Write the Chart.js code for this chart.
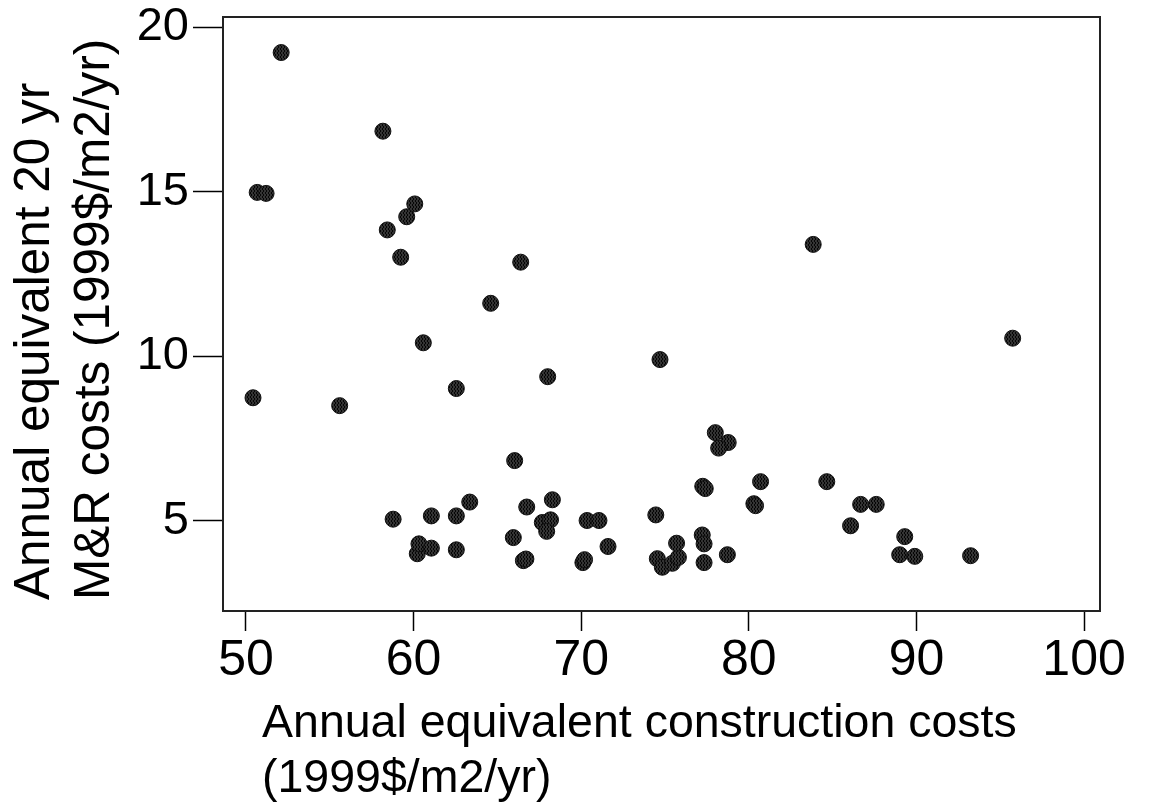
<!DOCTYPE html>
<html>
<head>
<meta charset="utf-8">
<script src="https://cdn.jsdelivr.net/npm/chart.js@4/dist/chart.umd.min.js"></script>
<style>
  html, body { margin: 0; padding: 0; background: #ffffff; }
  #wrap { width: 1151px; height: 806px; }
</style>
</head>
<body>
<div id="wrap"><canvas id="c" width="1151" height="806"></canvas></div>
<script>
// ---- data ----
const constructionCosts = [
  50.42, 50.67, 51.2, 52.1, 55.59, 58.17, 58.43, 58.78, 59.23, 59.59,
  60.07, 60.22, 60.32, 60.58, 61.06, 61.06, 62.55, 62.55, 62.55, 63.35,
  64.6, 65.95, 66.03, 66.39, 66.55, 66.7, 66.75, 67.68, 68.17, 67.94,
  68.28, 68.0, 70.1, 70.2, 70.35, 71.06, 71.6, 74.45, 74.7, 74.54,
  74.84, 75.44, 75.8, 75.69, 77.25, 77.4, 77.22, 77.33, 77.33, 78.72,
  78.0, 78.77, 78.2, 80.3, 80.4, 80.7, 83.84, 84.65, 86.07, 86.67,
  87.6, 89.3, 89.0, 89.9, 93.23, 95.74
];
const mrCosts = [
  8.74, 14.98, 14.95, 19.23, 8.50, 16.84, 13.84, 5.05, 13.01, 14.24,
  14.63, 4.00, 4.30, 10.41, 4.17, 5.15, 4.12, 9.02, 5.15, 5.57,
  11.61, 4.49, 6.83, 12.86, 3.79, 3.84, 5.42, 4.95, 5.03, 4.68,
  5.64, 9.38, 3.73, 3.82, 5.01, 5.01, 4.22, 5.18, 9.90, 3.85,
  3.59, 3.71, 3.89, 4.32, 6.05, 5.98, 4.57, 4.30, 3.73, 3.97,
  7.68, 7.38, 7.21, 5.52, 5.46, 6.19, 13.40, 6.19, 4.85, 5.50,
  5.50, 4.52, 3.97, 3.92, 3.94, 10.55
];
const xTickValues = [50, 60, 70, 80, 90, 100];
const yTickValues = [5, 10, 15, 20];
const xTitleLines = ["Annual equivalent construction costs", "(1999$/m2/yr)"];
const yTitleLines = ["Annual equivalent 20 yr", "M&R costs (1999$/m2/yr)"];

// ---- styling helpers ----
const FONT_FAMILY = '"Liberation Sans", Arial, sans-serif';
const X_TICK_SIZE = 50;
const Y_TICK_SIZE = 47;
const X_TITLE_SIZE = 46.5;
const Y_TITLE_SIZE = 49.5;

function makeHatch() {
  const p = document.createElement('canvas');
  p.width = 3; p.height = 4;
  const g = p.getContext('2d');
  g.fillStyle = '#333'; g.fillRect(0, 0, 3, 4);
  g.fillStyle = '#050505'; g.fillRect(1, 0, 1, 2); g.fillRect(2, 2, 1, 2);
  return g.createPattern(p, 'repeat');
}

const framePlugin = {
  id: 'frame',
  afterDraw(chart) {
    const { ctx, chartArea: a } = chart;
    ctx.save();
    ctx.strokeStyle = '#222';
    ctx.lineWidth = 2;
    ctx.strokeRect(a.left, a.top, a.right - a.left, a.bottom - a.top);
    ctx.restore();
  }
};

const titlesPlugin = {
  id: 'axisTitles',
  afterDraw(chart) {
    const { ctx, chartArea: a } = chart;
    ctx.save();
    ctx.fillStyle = '#000';
    ctx.textAlign = 'left';
    ctx.textBaseline = 'middle';
    ctx.font = X_TITLE_SIZE + 'px ' + FONT_FAMILY;
    xTitleLines.forEach((t, i) => ctx.fillText(t, a.left + 39, a.bottom + 113 + i * 55));
    ctx.font = Y_TITLE_SIZE + 'px ' + FONT_FAMILY;
    ctx.translate(35, a.bottom - 11);
    ctx.rotate(-Math.PI / 2);
    yTitleLines.forEach((t, i) => ctx.fillText(t, 0, i * 60));
    ctx.restore();
  }
};

const points = constructionCosts.map((x, i) => ({ x: x, y: mrCosts[i] }));

new Chart(document.getElementById('c'), {
  type: 'scatter',
  data: {
    datasets: [{
      data: points,
      pointStyle: 'circle',
      pointRadius: 8,
      pointHoverRadius: 8,
      pointBackgroundColor: makeHatch(),
      pointBorderColor: '#111',
      pointBorderWidth: 1
    }]
  },
  options: {
    responsive: false,
    animation: false,
    devicePixelRatio: 1,
    layout: { padding: { top: 17, right: 51, left: 0, bottom: 0 } },
    plugins: { legend: { display: false }, tooltip: { enabled: false } },
    scales: {
      x: {
        type: 'linear',
        position: 'bottom',
        min: 48.63,
        max: 100.95,
        afterBuildTicks: s => { s.ticks = xTickValues.map(v => ({ value: v })); },
        afterFit: s => { s.height = 195; s.paddingLeft = 0; s.paddingRight = 0; },
        border: { display: false },
        grid: { drawOnChartArea: false, drawTicks: true, tickLength: 20, tickColor: '#000', tickWidth: 1.5 },
        ticks: { color: '#000', font: { family: FONT_FAMILY, size: X_TICK_SIZE }, padding: 0, maxRotation: 0, autoSkip: false }
      },
      y: {
        type: 'linear',
        position: 'left',
        min: 2.26,
        max: 20.31,
        afterBuildTicks: s => { s.ticks = yTickValues.map(v => ({ value: v })); },
        afterFit: s => { s.width = 223; s.paddingTop = 0; s.paddingBottom = 0; },
        border: { display: false },
        grid: { drawOnChartArea: false, drawTicks: true, tickLength: 30, tickColor: '#000', tickWidth: 1.5 },
        ticks: { color: '#000', font: { family: FONT_FAMILY, size: Y_TICK_SIZE }, padding: 4, autoSkip: false }
      }
    }
  },
  plugins: [framePlugin, titlesPlugin]
});
</script>
</body>
</html>
